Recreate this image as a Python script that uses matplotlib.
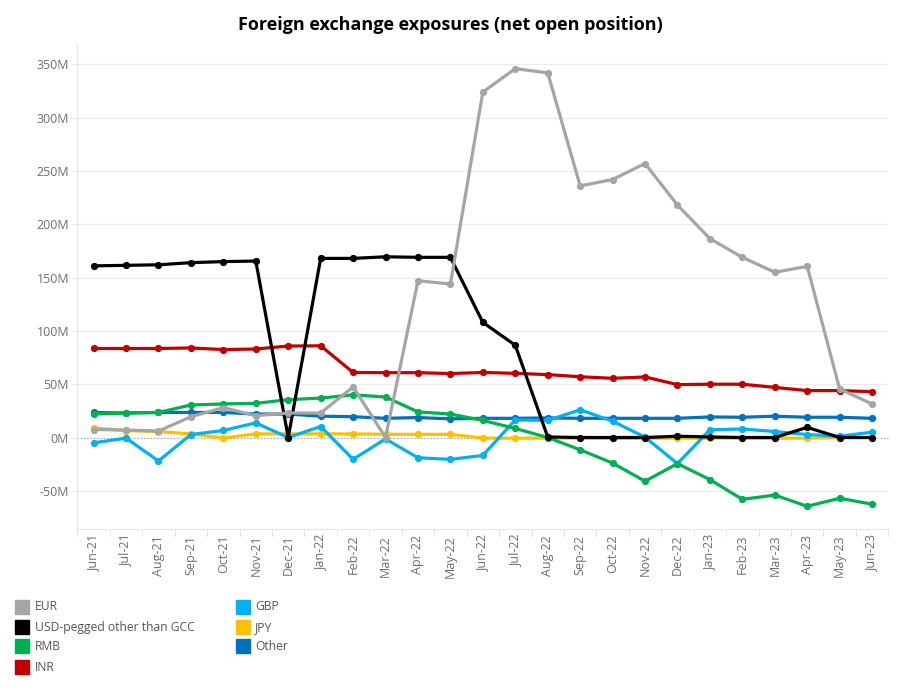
import matplotlib.pyplot as plt
from matplotlib.patches import Rectangle
from matplotlib.ticker import FuncFormatter, MultipleLocator

plt.rcParams['font.family'] = ['Open Sans', 'DejaVu Sans']

months = ["Jun-21", "Jul-21", "Aug-21", "Sep-21", "Oct-21", "Nov-21", "Dec-21",
          "Jan-22", "Feb-22", "Mar-22", "Apr-22", "May-22", "Jun-22", "Jul-22",
          "Aug-22", "Sep-22", "Oct-22", "Nov-22", "Dec-22", "Jan-23", "Feb-23",
          "Mar-23", "Apr-23", "May-23", "Jun-23"]

# values in millions
eur = [7.5, 7, 6, 19.5, 28, 20.5, 23, 23, 47.5, 0, 147, 144, 324, 346, 342,
       236, 242, 257, 218, 186.5, 169, 155, 160.5, 45.5, 31.5]
usd_pegged = [161, 161.5, 162, 164, 165, 165.5, 0, 168, 168, 169.5, 169, 169,
              108, 86.5, 0.5, 0, 0, 0, 1.2, 0.5, 0, 0, 9.5, 0, 0]
rmb = [22, 23, 23.5, 30.5, 31.5, 32, 35.5, 37, 40, 38, 24, 22, 16, 8.5, 0,
       -11.5, -24, -41, -24.5, -39.5, -58, -54, -64.5, -57, -62.5]
inr = [83.5, 83.5, 83.5, 84, 82.5, 83, 85.8, 86, 61, 60.8, 60.8, 60, 61, 60.2,
       59, 57, 55.5, 56.8, 49.6, 50, 50, 47, 44, 44, 43]
gbp = [-5, -0.6, -22, 2.8, 6.6, 13.7, 0, 10.3, -20.5, -1.3, -19, -20.5, -16.8,
       16.5, 16, 26, 15.3, 0.3, -24.5, 7.2, 8, 5.6, 2.8, 1.2, 5]
jpy = [9, 6.5, 5.6, 3.4, -0.6, 3.4, 3.4, 3.4, 3.4, 3, 3, 3, -0.6, -0.6, -0.6,
       -0.6, -0.6, -0.6, -0.6, -0.6, -0.6, -0.6, -0.6, 0, 0]
other = [23.5, 23, 23.5, 23.5, 23.5, 22, 22, 20, 19.5, 18, 18.7, 17.5, 18, 18,
         18.4, 18, 18, 18, 18, 19.3, 19, 20, 19, 19, 18]

series = [
    ("EUR", eur, "#a5a5a5"),
    ("USD-pegged other than GCC", usd_pegged, "#000000"),
    ("RMB", rmb, "#00b050"),
    ("INR", inr, "#c00000"),
    ("GBP", gbp, "#00b0f0"),
    ("JPY", jpy, "#ffc000"),
    ("Other", other, "#0070c0"),
]

fig = plt.figure(figsize=(9, 7), dpi=100)
ax = fig.add_axes([0.086, 0.244, 0.901, 0.693])

x = list(range(len(months)))
# draw last legend entry first so EUR / USD end up on top
for z, (name, vals, col) in enumerate(reversed(series)):
    ax.plot(x, vals, color=col, lw=2.3, marker='o', ms=4.2,
            solid_joinstyle='round', zorder=3 + z)

ax.axhline(0, color='#a0a0a0', lw=0.8, ls=(0, (1, 2)), zorder=2, clip_on=False)

ax.set_xlim(-0.5, len(months) - 0.5)
ax.set_ylim(-86, 369)
ax.yaxis.set_major_locator(MultipleLocator(50))
ax.yaxis.set_major_formatter(FuncFormatter(lambda v, p: f"{v:.0f}M"))
ax.grid(axis='y', color='#ececec', lw=0.9, zorder=0)

ax.set_xticks(x)
ax.set_xticklabels(months, rotation=90)
ax.tick_params(axis='x', length=0, pad=4, labelsize=9, labelcolor='#6e6e6e')
ax.tick_params(axis='y', length=4, color='#e6e6e6', pad=2, labelsize=9,
               labelcolor='#6e6e6e')

# small separators between month labels, tableau style
ax.set_xticks([i + 0.5 for i in range(-1, len(months))], minor=True)
ax.tick_params(axis='x', which='minor', length=6, color='#e6e6e6', width=0.8)

for side in ('top', 'right'):
    ax.spines[side].set_visible(False)
ax.spines['left'].set_color('#e6e6e6')
ax.spines['bottom'].set_color('#e6e6e6')

fig.text(0.5, 0.965, "Foreign exchange exposures (net open position)",
         ha='center', va='center', fontsize=13, fontweight='bold', color='black')

# legend, two columns of square swatches
col_x = [0.017, 0.262]
row_y = [0.133, 0.104, 0.076, 0.047]
for i, (name, vals, col) in enumerate(series):
    c, r = (0, i) if i < 4 else (1, i - 4)
    fig.patches.append(Rectangle((col_x[c], row_y[r] - 0.0095), 0.0155, 0.02,
                                 transform=fig.transFigure, color=col))
    fig.text(col_x[c] + 0.0215, row_y[r], name, ha='left', va='center',
             fontsize=8.7, color='#555555')

fig.savefig("out.png", dpi=100)
